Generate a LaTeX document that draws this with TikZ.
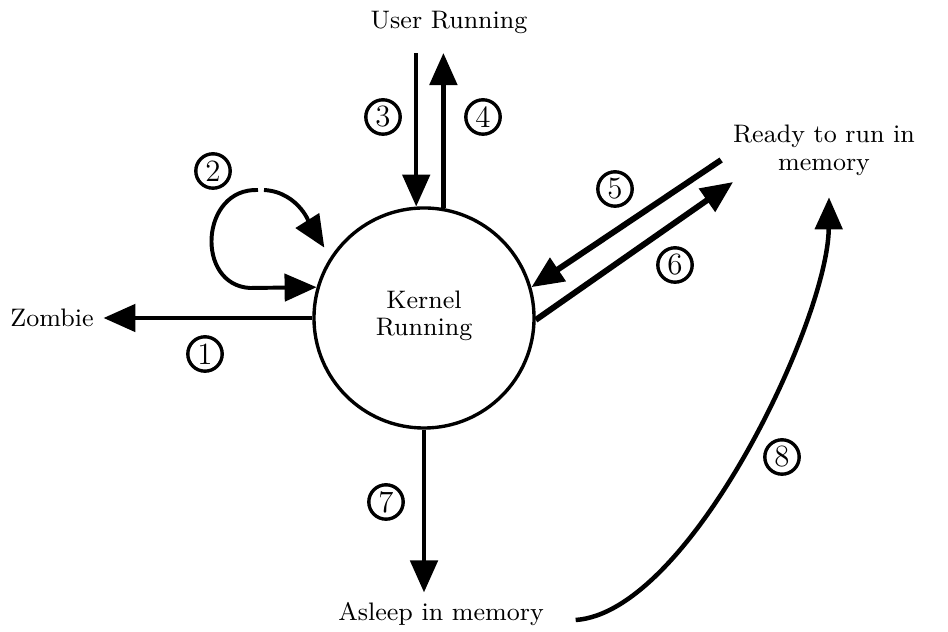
\documentclass[tikz,border=0pt]{standalone}
\usetikzlibrary{arrows.meta, positioning}

\begin{document}
\begin{tikzpicture}[x=0.0125cm, y=-0.0125cm,
  state/.style={font=\fontsize{9}{10}\selectfont, align=center},
  kern/.style={circle, draw, line width=1.2pt, minimum size=2.75cm, inner sep=0pt, font=\fontsize{9}{9.5}\selectfont, align=center},
  num/.style={circle, draw, line width=1.2pt, minimum size=0.43cm, inner sep=0pt, font=\fontsize{11}{11}\selectfont},
  line/.style={draw, line width=1.6pt, -{Triangle[length=4mm, width=3.4mm]}},
  wide/.style={line width=2.1pt}]
  \useasboundingbox (0,0) rectangle (948,632);
  \node [kern] (kernel) at (424,318) {Kernel\\Running\\[-6pt]};
  \node [state] (user) at (449,22) {User Running};
  \node [state] (zombie) at (52,318) {Zombie};
  \node [state] (ready) at (824,150) {Ready to run in\\memory};
  \node [state] (asleep) at (441,614) {Asleep in memory};
  \coordinate (loop) at (261,190);
  \node [num] (n1) at (205,354) {1};
  \node [num] (n2) at (213,171) {2};
  \node [num] (n3) at (383,117) {3};
  \node [num] (n4) at (483,117) {4};
  \node [num] (n5) at (615,189) {5};
  \node [num] (n6) at (675,265) {6};
  \node [num] (n7) at (386,502) {7};
  \node [num] (n8) at (782,457) {8};
  \draw [line] (kernel.west) -- (zombie.east);
  \draw [line, line width=1.4pt] ([shift={(-3,0)}]loop) .. controls (200,188) and (195,285) .. (250,288) -- (kernel.164);
  \draw [line, line width=1.4pt, shorten >=4pt] ([shift={(3,0)}]loop) .. controls (300,192) and (312,228) .. (kernel.147);
  \draw [line, shorten <=3.5pt] (kernel.94 |- user.south) -- (kernel.94);
  \draw [line, shorten >=3.5pt] (kernel.80) -- (kernel.80 |- user.south);
  \draw [line, wide] ([shift={(-2,10)}]ready.west) -- (kernel.16);
  \draw [line, wide] (kernel.-1) -- ([shift={(10,32)}]ready.west);
  \draw [line] (kernel.south) -- (kernel.south |- asleep.north);
  \draw [line] ([shift={(22,6)}]asleep.east) .. controls (690,612) and (828,320) .. ([shift={(5,12)}]ready.south);
\end{tikzpicture}
\end{document}
